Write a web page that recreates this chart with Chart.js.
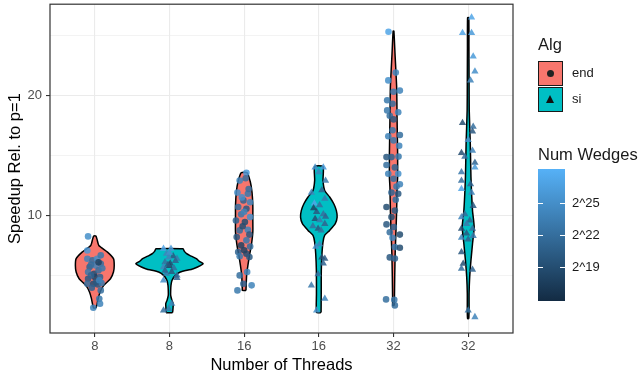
<!DOCTYPE html>
<html>
<head>
<meta charset="utf-8">
<script src="https://cdn.jsdelivr.net/npm/chart.js@4.4.1/dist/chart.umd.min.js"></script>
<style>
  body { margin: 0; background: #fff; font-family: "Liberation Sans", Arial, sans-serif; }
  #wrap { position: relative; width: 640px; height: 375px; }
  .lg { position: absolute; color: #1a1a1a; white-space: nowrap; }
  .ttl { font-size: 16.5px; }
  .lab { font-size: 13px; }
  .key { position: absolute; width: 23px; height: 23px; border: 1px solid #1a1a1a; }
  .dot { position: absolute; left: 8px; top: 8px; width: 7px; height: 7px; border-radius: 50%; background: #222; }
  .tri { position: absolute; left: 7px; top: 7px; width: 0; height: 0;
         border-left: 4.5px solid transparent; border-right: 4.5px solid transparent; border-bottom: 8px solid #111; }
  #bar { position: absolute; left: 538px; top: 169px; width: 27px; height: 132px;
         background: linear-gradient(to bottom, #56B1F7, #132B43); }
  .tick { position: absolute; height: 1px; width: 5px; background: #fff; }
</style>
</head>
<body>
<div id="wrap">
  <canvas id="chart" width="640" height="375"></canvas>
  <div id="legend"></div>
</div>
<script>
// categories on the x axis
const threadLabels = ['8', '8', '16', '16', '32', '32'];
const algNames = ['end', 'si'];
const algColors = ['#F8766D', '#00BFC4'];

// y axis ticks
const yTicks = [5, 10, 15, 20, 25];
const yLabelled = [10, 20];

// colour scale (log2 of wedges)
const wedgeLimits = [15.83, 28.14];
const wedgeTicks = [19, 22, 25];

// violin outlines: y levels and half widths (category units)
const v1Y = [2.28, 2.5, 3.06, 3.6, 4.17, 4.72, 5.28, 5.83, 6.4, 6.94, 7.5, 8.0, 8.28];
const v1W = [0.015, 0.027, 0.045, 0.07, 0.12, 0.21, 0.25, 0.26, 0.25, 0.17, 0.054, 0.03, 0.015];
const v2Y = [1.89, 2.08, 2.64, 2.92, 3.33, 3.75, 4.17, 4.58, 5.0, 5.28, 5.56, 5.97, 6.17, 6.39, 6.67, 6.81, 7.0, 7.22];
const v2W = [0.04, 0.045, 0.05, 0.033, 0.016, 0.016, 0.02, 0.033, 0.078, 0.145, 0.32, 0.45, 0.40, 0.36, 0.27, 0.23, 0.2, 0.18];
const v3Y = [3.75, 3.89, 5.0, 5.83, 6.67, 7.5, 8.61, 9.72, 10.83, 11.94, 12.78, 13.56];
const v3W = [0.025, 0.025, 0.033, 0.05, 0.071, 0.096, 0.116, 0.116, 0.116, 0.105, 0.083, 0.04];
const v4Y = [1.9, 3.47, 5.42, 6.81, 7.78, 8.33, 8.75, 9.31, 9.86, 10.42, 10.97, 11.53, 12.08, 12.92, 14.08];
const v4W = [0.03, 0.032, 0.033, 0.042, 0.056, 0.078, 0.145, 0.22, 0.245, 0.234, 0.2, 0.145, 0.078, 0.056, 0.056];
const v5Y = [2.5, 2.92, 4.86, 6.8, 8.75, 10.4, 12.36, 13.2, 15.14, 17.9, 20.7, 23.47, 25.36];
const v5W = [0.01, 0.012, 0.016, 0.022, 0.033, 0.042, 0.048, 0.055, 0.055, 0.048, 0.042, 0.02, 0.005];
const v6Y = [1.39, 2.08, 3.5, 4.86, 6.25, 7.64, 9.03, 10.4, 13.2, 16.0, 18.75, 21.0, 24.0, 26.47];
const v6W = [0.008, 0.012, 0.012, 0.02, 0.037, 0.058, 0.08, 0.058, 0.037, 0.028, 0.014, 0.012, 0.01, 0.008];

// jittered points: speedup, x jitter, log2(wedges)
const p1Y = [8.25, 7.08, 6.39, 6.25, 6.39, 6.67, 5.69, 5.83, 5.97, 5.28, 5.14, 5.42, 4.72, 4.86, 4.86, 4.31, 4.31, 4.25, 4.36, 3.97, 3.75, 3.06, 2.64, 2.31, 4.44, 5.9, 6.1, 5.0, 4.6, 5.6];
const p1J = [-0.09, -0.10, -0.10, -0.03, 0.03, 0.08, -0.07, 0.01, 0.08, -0.09, -0.01, 0.05, -0.09, 0.0, 0.07, -0.10, -0.02, 0.04, 0.09, -0.04, 0.08, 0.06, 0.07, -0.02, 0.02, -0.05, 0.05, -0.05, 0.06, 0.1];
const p1E = [25, 26, 24, 22, 25, 23, 21, 24, 22, 23, 19, 22, 20, 18, 21, 22, 19, 20, 23, 21, 22, 23, 24, 24, 20, 22, 18, 21, 24, 23];

const p2Y = [7.22, 7.22, 6.81, 6.6, 6.39, 6.11, 6.0, 6.2, 5.69, 5.8, 5.6, 5.14, 5.3, 5.0, 4.58, 4.8, 5.9, 6.5, 2.08, 2.64, 2.2, 6.9, 5.4];
const p2J = [-0.08, 0.02, -0.04, 0.05, 0.10, -0.06, 0.01, 0.08, -0.08, 0.0, 0.06, -0.04, 0.03, 0.10, -0.08, 0.1, -0.02, -0.01, -0.08, 0.03, -0.01, 0.0, -0.06];
const p2E = [27, 26, 24, 20, 23, 22, 19, 21, 24, 18, 22, 23, 20, 22, 25, 21, 20, 24, 22, 24, 23, 25, 21];

const p3Y = [13.56, 12.9, 13.1, 11.9, 11.8, 11.25, 11.1, 10.7, 10.55, 10.1, 9.86, 9.58, 9.45, 8.75, 8.8, 8.19, 7.92, 7.5, 7.4, 6.94, 6.81, 6.53, 6.6, 5.28, 5.0, 4.3, 3.75, 4.17, 12.2, 9.1, 10.3, 8.4, 11.5, 7.1];
const p3J = [0.03, -0.06, 0.02, -0.09, 0.05, -0.01, 0.08, -0.08, 0.03, -0.04, 0.08, -0.11, 0.01, -0.06, 0.05, -0.10, 0.03, -0.04, 0.08, -0.08, 0.03, 0.07, -0.06, 0.04, -0.06, -0.01, -0.09, 0.10, 0.06, -0.02, 0.0, 0.07, -0.03, 0.0];
const p3E = [26, 24, 22, 25, 23, 21, 24, 22, 20, 23, 25, 21, 19, 22, 24, 20, 23, 18, 22, 21, 19, 20, 23, 24, 22, 21, 23, 24, 22, 19, 24, 20, 25, 18];

const p4Y = [14.0, 14.0, 13.6, 12.9, 11.9, 12.1, 11.4, 11.0, 10.85, 10.3, 10.1, 9.7, 9.6, 9.3, 8.9, 8.75, 7.4, 7.6, 6.5, 6.4, 6.0, 5.1, 4.17, 3.06, 2.08, 10.6, 9.9, 9.1];
const p4J = [-0.05, 0.06, 0.0, 0.09, -0.10, 0.04, 0.08, -0.06, 0.01, -0.03, 0.06, -0.05, 0.01, 0.08, -0.01, 0.03, -0.04, 0.01, 0.04, 0.08, 0.06, -0.01, -0.10, 0.08, -0.03, -0.07, 0.09, -0.08];
const p4E = [25, 26, 24, 23, 24, 21, 23, 27, 22, 20, 22, 19, 23, 21, 20, 22, 25, 24, 19, 20, 21, 22, 23, 24, 25, 18, 21, 22];

const p5Y = [25.3, 21.9, 21.25, 20.3, 20.4, 19.6, 19.3, 18.75, 18.6, 18.3, 18.0, 17.1, 16.6, 16.7, 16.25, 15.8, 14.86, 14.86, 14.9, 14.2, 14.0, 13.47, 13.47, 13.05, 12.6, 12.4, 11.9, 11.8, 11.3, 10.7, 10.4, 9.86, 9.25, 9.03, 8.6, 8.4, 8.14, 7.36, 7.3, 6.5, 6.4, 3.0, 2.97, 2.5];
const p5J = [-0.067, 0.03, -0.07, 0.0, 0.085, -0.085, -0.013, -0.085, 0.063, -0.05, 0.0, -0.013, -0.07, 0.085, 0.0, 0.076, -0.094, -0.027, 0.067, -0.094, 0.018, -0.07, 0.063, 0.0, 0.085, 0.04, -0.027, 0.063, 0.03, -0.094, 0.018, -0.027, -0.094, 0.004, -0.05, 0.085, -0.013, 0.018, 0.085, -0.05, 0.018, -0.1, 0.01, 0.018];
const p5E = [27, 24, 25, 23, 24, 23, 22, 23, 24, 22, 20, 23, 24, 22, 23, 24, 20, 21, 23, 22, 21, 24, 25, 22, 24, 23, 21, 20, 22, 19, 20, 19, 20, 21, 22, 19, 24, 23, 19, 20, 21, 22, 23, 22];

const p6Y = [26.5, 25.2, 25.2, 23.25, 22.0, 21.25, 17.7, 17.4, 17.0, 16.3, 15.2, 15.4, 14.9, 14.4, 14.0, 13.6, 12.9, 12.6, 12.2, 11.9, 10.8, 10.1, 9.86, 9.58, 9.3, 8.9, 8.9, 8.5, 8.14, 8.3, 8.0, 6.94, 5.97, 5.56, 5.47, 2.08, 1.53];
const p6J = [0.045, -0.076, 0.045, 0.067, 0.09, 0.031, -0.076, 0.067, 0.058, 0.0, -0.09, 0.058, -0.045, 0.09, 0.09, -0.09, -0.09, 0.031, -0.09, 0.045, 0.067, -0.045, -0.09, 0.022, -0.022, -0.09, 0.058, -0.022, -0.09, 0.067, 0.0, -0.09, -0.067, -0.09, 0.058, 0.0, 0.09];
const p6E = [27, 27, 26, 26, 25, 24, 19, 22, 20, 25, 19, 24, 22, 21, 26, 23, 22, 21, 27, 24, 20, 22, 24, 21, 23, 19, 22, 20, 24, 23, 21, 20, 19, 22, 21, 22, 24];

const violins = [[v1Y, v1W], [v2Y, v2W], [v3Y, v3W], [v4Y, v4W], [v5Y, v5W], [v6Y, v6W]];
const points = [[p1Y, p1J, p1E], [p2Y, p2J, p2E], [p3Y, p3J, p3E], [p4Y, p4J, p4E], [p5Y, p5J, p5E], [p6Y, p6J, p6E]];

const FONT = '"Liberation Sans", Arial, sans-serif';

function wedgeColor(e, alpha) {
    const lo = [19, 43, 67], hi = [86, 177, 247];
    let t = (e - wedgeLimits[0]) / (wedgeLimits[1] - wedgeLimits[0]);
    t = Math.max(0, Math.min(1, t));
    const c = lo.map((v, i) => Math.round(v + (hi[i] - v) * t));
    return `rgba(${c[0]},${c[1]},${c[2]},${alpha})`;
}

const datasets = [];

// points first so they are drawn on top
points.forEach(([ys, js, es], i) => {
    const alg = i % 2;
    datasets.push({
        type: 'scatter',
        order: 1,
        data: ys.map((y, k) => ({ x: i + 1 + js[k], y: y, w: es[k] })),
        pointStyle: alg === 0 ? 'circle' : 'triangle',
        pointRadius: alg === 0 ? 3.3 : 4.2,
        pointBorderWidth: 0,
        backgroundColor: ctx => wedgeColor(ctx.raw ? ctx.raw.w : 22, 0.85),
        showLine: false
    });
});

violins.forEach(([ys, ws], i) => {
    const alg = i % 2;
    const c = i + 1;
    const outline = [];
    for (let k = 0; k < ys.length; k++) outline.push({ x: c + ws[k], y: ys[k] });
    for (let k = ys.length - 1; k >= 0; k--) outline.push({ x: c - ws[k], y: ys[k] });
    outline.push(outline[0]);
    datasets.push({
        type: 'scatter',
        order: 2,
        data: outline,
        showLine: true,
        fill: 'shape',
        backgroundColor: algColors[alg],
        borderColor: '#000',
        borderWidth: 1.5,
        tension: 0.2,
        pointRadius: 0
    });
});

const panelBorder = {
    id: 'panelBorder',
    afterDatasetsDraw(chart) {
        const { ctx, chartArea: a } = chart;
        ctx.save();
        ctx.strokeStyle = '#333333';
        ctx.lineWidth = 1.2;
        ctx.strokeRect(a.left, a.top, a.right - a.left, a.bottom - a.top);
        ctx.restore();
    }
};

new Chart(document.getElementById('chart'), {
    type: 'scatter',
    data: { datasets },
    options: {
        responsive: false,
        animation: false,
        layout: { padding: { left: 0, right: 127, top: 4, bottom: 0 } },
        plugins: { legend: { display: false }, tooltip: { enabled: false } },
        scales: {
            x: {
                type: 'linear',
                min: 0.4,
                max: 6.6,
                afterBuildTicks: s => { s.ticks = threadLabels.map((_, i) => ({ value: i + 1 })); },
                afterFit: s => { s.height = 42; s.paddingLeft = 0; s.paddingRight = 0; },
                ticks: {
                    callback: v => threadLabels[v - 1],
                    color: '#4d4d4d',
                    font: { family: FONT, size: 13 },
                    padding: 2,
                    maxRotation: 0,
                    autoSkip: false
                },
                grid: { color: '#ebebeb', lineWidth: 1.1, tickLength: 4, tickColor: '#333333' },
                border: { display: false },
                title: {
                    display: true,
                    text: 'Number of Threads',
                    color: '#000',
                    font: { family: FONT, size: 16.5 },
                    padding: { top: 0, bottom: 0 }
                }
            },
            y: {
                min: 0.2,
                max: 27.6,
                afterBuildTicks: s => { s.ticks = yTicks.map(v => ({ value: v })); },
                afterFit: s => { s.width = 50; s.paddingTop = 0; s.paddingBottom = 0; },
                ticks: {
                    callback: v => yLabelled.includes(v) ? String(v) : '',
                    color: '#4d4d4d',
                    font: { family: FONT, size: 13 },
                    padding: 4
                },
                grid: {
                    color: '#ebebeb',
                    lineWidth: ctx => yLabelled.includes(ctx.tick && ctx.tick.value) ? 1.1 : 0.6,
                    tickLength: 4,
                    tickColor: ctx => yLabelled.includes(ctx.tick && ctx.tick.value) ? '#333333' : 'rgba(0,0,0,0)'
                },
                border: { display: false },
                title: {
                    display: true,
                    text: 'Speedup Rel. to p=1',
                    color: '#000',
                    font: { family: FONT, size: 16.5 },
                    padding: { top: 6, bottom: 0 }
                }
            }
        }
    },
    plugins: [panelBorder]
});

// legends drawn as html next to the panel
const legend = document.getElementById('legend');
let html = '<div class="lg ttl" style="left:538px;top:35px">Alg</div>';
algNames.forEach((name, i) => {
    const top = 61 + i * 26;
    html += `<div class="key" style="left:538px;top:${top}px;background:${algColors[i]}">` +
        (i === 0 ? '<div class="dot"></div>' : '<div class="tri"></div>') + '</div>';
    html += `<div class="lg lab" style="left:572px;top:${top + 4}px">${name}</div>`;
});
html += '<div class="lg ttl" style="left:538px;top:145px">Num Wedges</div>';
html += '<div id="bar"></div>';
wedgeTicks.forEach(e => {
    const y = 169 + 132 * (wedgeLimits[1] - e) / (wedgeLimits[1] - wedgeLimits[0]);
    html += `<div class="tick" style="left:538px;top:${y.toFixed(1)}px"></div>`;
    html += `<div class="tick" style="left:560px;top:${y.toFixed(1)}px"></div>`;
    html += `<div class="lg lab" style="left:572px;top:${(y - 8).toFixed(1)}px">2^${e}</div>`;
});
legend.innerHTML = html;
</script>
</body>
</html>
